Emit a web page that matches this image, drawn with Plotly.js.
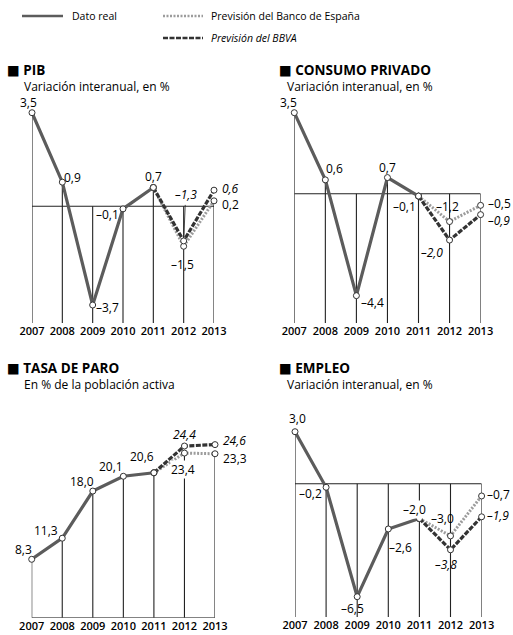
<!DOCTYPE html>
<html>
<head>
<meta charset="utf-8">
<script src="https://cdn.plot.ly/plotly-3.0.1.min.js"></script>
<style>html,body{margin:0;padding:0;background:#fff;}#chart{width:513px;height:635px;}</style>
</head>
<body>
<div id="chart"></div>
<script>
// ---------- DATA ----------
const years = [2007, 2008, 2009, 2010, 2011, 2012, 2013];
const tickLabels = ["2007", "2008", "2009", "2010", "2011", "2012", "2013"];
const realYears = [2007, 2008, 2009, 2010, 2011];
const forecastYears = [2011, 2012, 2013];

const pibReal = [3.5, 0.9, -3.7, -0.1, 0.7];
const pibBde = [-1.5, 0.2];
const pibBbva = [-1.3, 0.6];

const consumoReal = [3.5, 0.6, -4.4, 0.7, -0.1];
const consumoBde = [-1.2, -0.5];
const consumoBbva = [-2.0, -0.9];

const paroReal = [8.3, 11.3, 18.0, 20.1, 20.6];
const paroBde = [23.4, 23.3];
const paroBbva = [24.4, 24.6];

const empleoReal = [3.0, -0.2, -6.5, -2.6, -2.0];
const empleoBde = [-3.0, -0.7];
const empleoBbva = [-3.8, -1.9];

const panelTitles = ["PIB", "CONSUMO PRIVADO", "TASA DE PARO", "EMPLEO"];
const panelSubtitles = ["Variación interanual, en %", "Variación interanual, en %",
  "En % de la población activa", "Variación interanual, en %"];
const legendNames = ["Dato real", "Previsión del Banco de España", "Previsión del BBVA"];

// ---------- LAYOUT / STYLE ----------
const W = 513, H = 635;
const FONT = "Open Sans, DejaVu Sans, sans-serif";
const px = v => v / W;
const py = v => 1 - v / H;

const panels = [
  {real: pibReal, bde: pibBde, bbva: pibBbva, xpx: [32, 214], ypx: [104.7, 323], yr: [-4.374, 3.8],
   titlePos: [5, 70], subPos: [22, 86],
   lab: [[-4,-10,'c'],[1,-5,'l'],[2,2,'l'],[-3,6,'r'],[0,-11,'c'], [-1,18,'c'],[7,4,'l'], [2,-46,'c',true],[7,-2,'l']]},
  {real: consumoReal, bde: consumoBde, bbva: consumoBbva, xpx: [294.3, 480.6], ypx: [105.75, 323], yr: [-5.58, 3.8],
   titlePos: [277, 70], subPos: [285, 86],
   lab: [[-6,-10,'c'],[9,-11,'c'],[4,7,'l'],[0,-10,'c'],[-2,10,'r'], [-2,-15,'c'],[6,-2,'l'], [-6,12,'r'],[6,6,'l']]},
  {real: paroReal, bde: paroBde, bbva: paroBbva, xpx: [31.7, 215], ypx: [441.8, 617.7], yr: [0, 25],
   titlePos: [5, 368], subPos: [22, 384],
   lab: [[-8,-10,'c'],[-16,-8,'c'],[-11,-10,'c'],[-12,-10,'c'],[-12,-16,'c'], [-1,16,'c',false,true],[7,5,'l'], [0,-12,'c'],[7,-4,'l']]},
  {real: empleoReal, bde: empleoBde, bbva: empleoBbva, xpx: [295, 481.6], ypx: [426.5, 617], yr: [-7.669, 3.3],
   titlePos: [277, 368], subPos: [285, 384],
   lab: [[2,-13,'c'],[-3,6,'r'],[-5,12,'c'],[0,19,'l'],[-5,-9,'c',false,true], [-8,-17,'c'],[4,-1,'l'], [-5,15,'c'],[4,-1,'l']]}
];

const REAL_STYLE = {color: "#5c5c5c", width: 3.2};
const BDE_STYLE = {color: "#9c9c9c", width: 3, dash: "2px,1.5px"};
const BBVA_STYLE = {color: "#333333", width: 3.2, dash: "5px,1.5px"};
const MARKER = {symbol: "circle", size: 6, color: "#fff", line: {color: "#333", width: 1}};

const fmt = v => (v < 0 ? "\u2013" : "") + Math.abs(v).toFixed(1).replace(".", ",");

const traces = [];
const shapes = [];
const annotations = [];
const layout = {
  width: W, height: H,
  margin: {l: 0, r: 0, t: 0, b: 0},
  paper_bgcolor: "#fff", plot_bgcolor: "rgba(0,0,0,0)",
  showlegend: false,
  font: {family: FONT, color: "#111"}
};

panels.forEach((p, k) => {
  const n = k + 1;
  const xa = "x" + (n === 1 ? "" : n), ya = "y" + (n === 1 ? "" : n);
  const xKey = "xaxis" + (n === 1 ? "" : n), yKey = "yaxis" + (n === 1 ? "" : n);
  layout[xKey] = {
    domain: [px(p.xpx[0]), px(p.xpx[1])], range: [2007, 2013], anchor: ya,
    showgrid: false, zeroline: false, showline: false, ticks: "",
    tickvals: years, ticktext: tickLabels, tickfont: {size: 11, color: "#000", family: FONT, weight: 600},
    fixedrange: true
  };
  layout[yKey] = {
    domain: [py(p.ypx[1]), py(p.ypx[0])], range: p.yr, anchor: xa,
    showgrid: false, zeroline: false, showline: false, showticklabels: false, ticks: "",
    fixedrange: true
  };

  const bdeSeries = [p.real[4]].concat(p.bde);
  const bbvaSeries = [p.real[4]].concat(p.bbva);

  // drop lines from each point (or zero) down to the axis bottom
  years.forEach((yr, i) => {
    const top = i < 5 ? p.real[i] : Math.min(p.bde[i - 5], p.bbva[i - 5]);
    shapes.push({type: "line", xref: xa, yref: ya, x0: yr, x1: yr,
      y0: Math.max(0, top), y1: p.yr[0], layer: "below", line: {color: "#222", width: 1.1}});
  });
  // zero line
  shapes.push({type: "line", xref: xa, yref: ya, x0: years[0], x1: years[years.length - 1],
    y0: 0, y1: 0, layer: "below", line: {color: "#222", width: 1.1}});

  traces.push({x: forecastYears, y: bdeSeries, xaxis: xa, yaxis: ya, mode: "lines+markers",
    line: BDE_STYLE, marker: MARKER, cliponaxis: false, hoverinfo: "skip"});
  traces.push({x: forecastYears, y: bbvaSeries, xaxis: xa, yaxis: ya, mode: "lines+markers",
    line: BBVA_STYLE, marker: MARKER, cliponaxis: false, hoverinfo: "skip"});
  traces.push({x: realYears, y: p.real, xaxis: xa, yaxis: ya, mode: "lines+markers",
    line: REAL_STYLE, marker: MARKER, cliponaxis: false, hoverinfo: "skip"});

  // value labels
  const pts = [];
  realYears.forEach((yr, i) => pts.push([yr, p.real[i], false]));
  [2012, 2013].forEach((yr, i) => pts.push([yr, p.bde[i], false]));
  [2012, 2013].forEach((yr, i) => pts.push([yr, p.bbva[i], true]));
  pts.forEach((pt, j) => {
    const s = p.lab[j];
    const anchor = s[2] === 'l' ? 'left' : (s[2] === 'r' ? 'right' : 'center');
    const f = {size: 12, color: "#000", family: FONT, style: pt[2] ? "italic" : "normal"};
    if (s[3]) {
      annotations.push({xref: xa, yref: ya, x: pt[0], y: pt[1], text: fmt(pt[1]),
        showarrow: true, arrowhead: 0, arrowwidth: 0.8, arrowcolor: "#222", ax: s[0], ay: s[1],
        standoff: 4, font: f});
    } else {
      annotations.push({xref: xa, yref: ya, x: pt[0], y: pt[1], text: fmt(pt[1]),
        showarrow: false, xanchor: anchor, yanchor: "middle", xshift: s[0], yshift: -s[1],
        font: f, bgcolor: s[4] ? "#fff" : "rgba(0,0,0,0)", borderpad: 0});
    }
  });

  // titles
  annotations.push({xref: "paper", yref: "paper", x: px(p.titlePos[0]), y: py(p.titlePos[1]),
    xanchor: "left", yanchor: "middle", showarrow: false,
    text: "<b>\u25A0 " + panelTitles[k] + "</b>", font: {size: 13.5, color: "#000", family: FONT, weight: 800}});
  annotations.push({xref: "paper", yref: "paper", x: px(p.subPos[0]), y: py(p.subPos[1]),
    xanchor: "left", yanchor: "middle", showarrow: false,
    text: panelSubtitles[k], font: {size: 12, color: "#000", family: FONT}});
});

// legend (samples + labels)
const legendItems = [
  {style: REAL_STYLE, x: [22, 63], y: 16, tx: 70, italic: false},
  {style: BDE_STYLE, x: [163, 203], y: 16, tx: 209, italic: false},
  {style: BBVA_STYLE, x: [163, 203], y: 38, tx: 209, italic: true}
];
legendItems.forEach((it, i) => {
  shapes.push({type: "line", xref: "paper", yref: "paper", x0: px(it.x[0]), x1: px(it.x[1]),
    y0: py(it.y), y1: py(it.y), line: {color: it.style.color, width: 2.5, dash: it.style.dash || "solid"}});
  annotations.push({xref: "paper", yref: "paper", x: px(it.tx), y: py(it.y), xanchor: "left", yanchor: "middle",
    showarrow: false, text: legendNames[i],
    font: {size: 10.5, color: "#000", family: FONT, style: it.italic ? "italic" : "normal"}});
});

layout.shapes = shapes;
layout.annotations = annotations;

Plotly.newPlot("chart", traces, layout, {staticPlot: true, displayModeBar: false});
</script>
</body>
</html>
